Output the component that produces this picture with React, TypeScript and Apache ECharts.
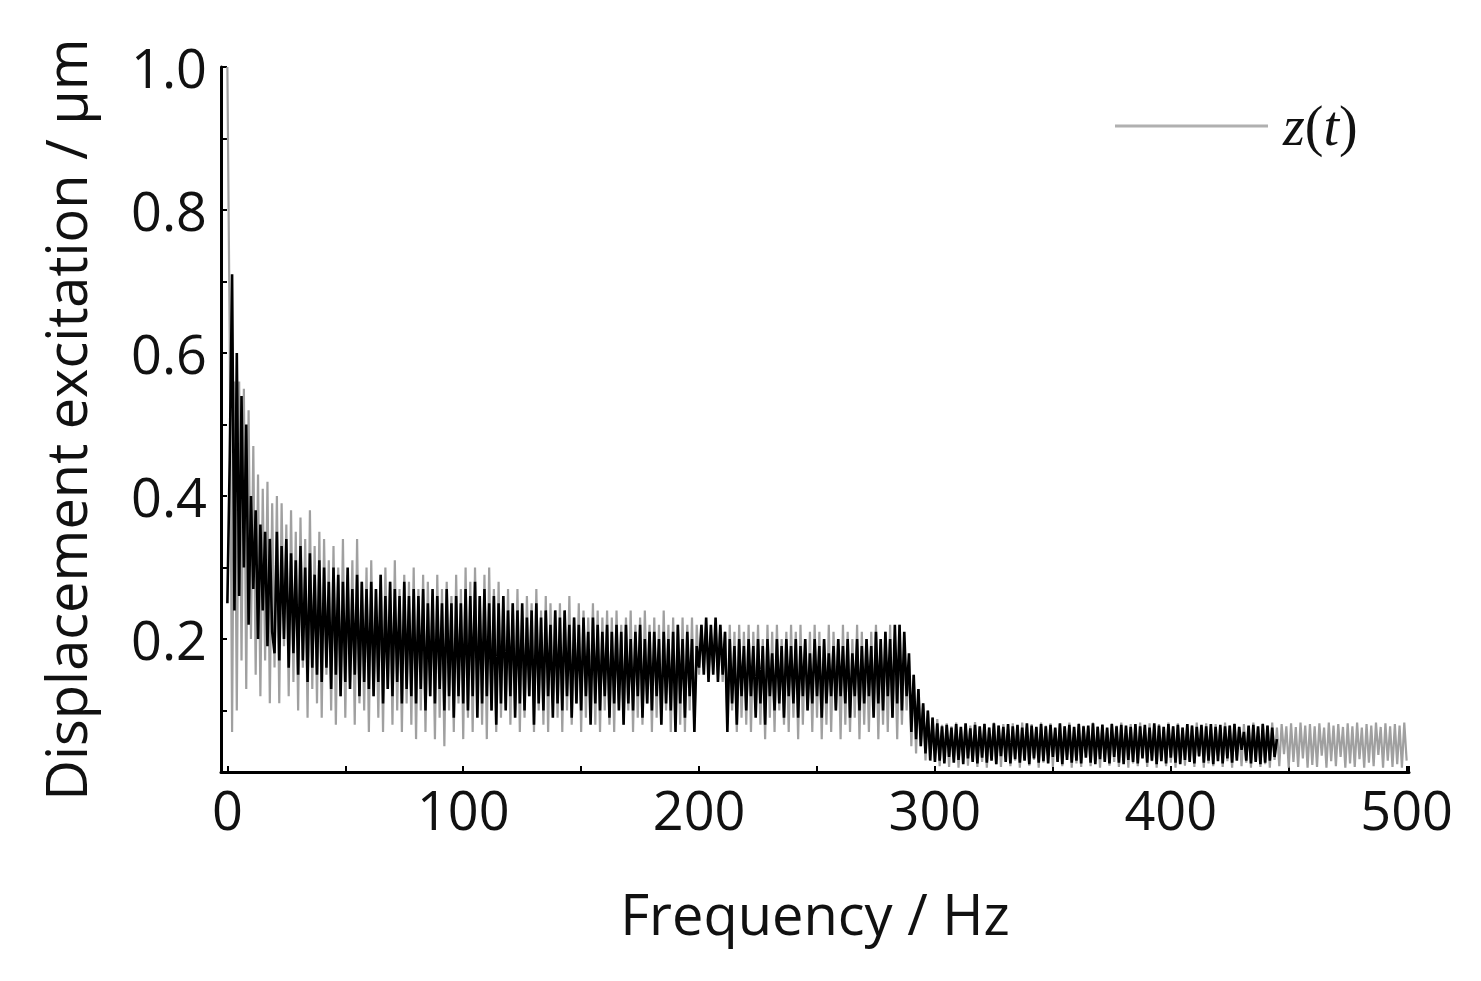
import React, { useEffect, useRef } from "react";
import * as echarts from "echarts";

// Tick labels
const X_LABELS = [0, 100, 200, 300, 400, 500];
const Y_LABELS = [0.2, 0.4, 0.6, 0.8, 1.0];

// Frequency grid: value i is at i Hz (step 1 Hz)
const FREQ_START = 0;
const FREQ_STEP = 1;

// z(t) spectrum (grey), 0..500 Hz
const Z_T: number[] = [
  1.00, 0.62, 0.07, 0.56, 0.10, 0.56, 0.17, 0.55, 0.13, 0.52, 0.20, 0.47, 0.15, 0.43, 0.12, 0.41, 0.17, 0.42, 0.11, 0.39,
  0.16, 0.40, 0.11, 0.39, 0.19, 0.36, 0.12, 0.38, 0.14, 0.35, 0.10, 0.37, 0.16, 0.34, 0.09, 0.38, 0.13, 0.33, 0.11, 0.35,
  0.09, 0.34, 0.15, 0.31, 0.10, 0.33, 0.08, 0.30, 0.12, 0.34, 0.09, 0.29, 0.14, 0.31, 0.08, 0.34, 0.11, 0.28, 0.10, 0.30,
  0.07, 0.31, 0.12, 0.27, 0.09, 0.29, 0.07, 0.30, 0.13, 0.28, 0.08, 0.31, 0.10, 0.27, 0.07, 0.29, 0.11, 0.28, 0.08, 0.30,
  0.06, 0.27, 0.10, 0.29, 0.07, 0.28, 0.12, 0.26, 0.06, 0.29, 0.09, 0.27, 0.05, 0.28, 0.10, 0.26, 0.07, 0.29, 0.11, 0.27,
  0.06, 0.30, 0.09, 0.28, 0.07, 0.30, 0.12, 0.26, 0.08, 0.29, 0.06, 0.30, 0.10, 0.27, 0.07, 0.28, 0.09, 0.26, 0.11, 0.27,
  0.08, 0.25, 0.10, 0.27, 0.07, 0.24, 0.09, 0.26, 0.12, 0.25, 0.07, 0.27, 0.10, 0.24, 0.08, 0.26, 0.07, 0.25, 0.11, 0.24,
  0.09, 0.25, 0.07, 0.24, 0.10, 0.26, 0.08, 0.23, 0.11, 0.25, 0.07, 0.24, 0.09, 0.23, 0.12, 0.25, 0.08, 0.24, 0.07, 0.23,
  0.10, 0.24, 0.08, 0.23, 0.07, 0.24, 0.11, 0.22, 0.08, 0.23, 0.10, 0.24, 0.07, 0.22, 0.09, 0.23, 0.08, 0.24, 0.11, 0.22,
  0.07, 0.23, 0.09, 0.22, 0.08, 0.24, 0.10, 0.22, 0.07, 0.23, 0.09, 0.22, 0.08, 0.23, 0.07, 0.22, 0.10, 0.23, 0.07, 0.22,
  0.15, 0.22, 0.16, 0.22, 0.15, 0.21, 0.16, 0.22, 0.15, 0.22, 0.14, 0.21, 0.08, 0.22, 0.10, 0.21, 0.07, 0.22, 0.09, 0.21,
  0.08, 0.22, 0.07, 0.21, 0.10, 0.22, 0.08, 0.20, 0.06, 0.22, 0.09, 0.21, 0.07, 0.22, 0.10, 0.20, 0.08, 0.21, 0.07, 0.22,
  0.09, 0.21, 0.06, 0.22, 0.08, 0.20, 0.10, 0.21, 0.07, 0.22, 0.09, 0.21, 0.06, 0.20, 0.08, 0.22, 0.07, 0.21, 0.10, 0.20,
  0.06, 0.22, 0.08, 0.21, 0.07, 0.20, 0.09, 0.22, 0.06, 0.21, 0.08, 0.20, 0.07, 0.21, 0.10, 0.22, 0.06, 0.20, 0.08, 0.21,
  0.07, 0.22, 0.09, 0.20, 0.06, 0.22, 0.08, 0.19, 0.10, 0.17, 0.05, 0.15, 0.04, 0.13, 0.05, 0.11, 0.03, 0.10, 0.04, 0.09,
  0.030, 0.088, 0.022, 0.080, 0.040, 0.082, 0.021, 0.078, 0.032, 0.083, 0.020, 0.075, 0.038, 0.081, 0.023, 0.079, 0.030, 0.084, 0.021, 0.077,
  0.028, 0.082, 0.020, 0.076, 0.042, 0.083, 0.025, 0.079, 0.021, 0.081, 0.036, 0.074, 0.022, 0.082, 0.030, 0.078, 0.020, 0.083, 0.040, 0.077,
  0.023, 0.081, 0.031, 0.076, 0.020, 0.083, 0.027, 0.079, 0.038, 0.082, 0.021, 0.075, 0.029, 0.081, 0.022, 0.078, 0.035, 0.083, 0.020, 0.077,
  0.026, 0.082, 0.021, 0.079, 0.041, 0.076, 0.022, 0.083, 0.030, 0.078, 0.020, 0.081, 0.034, 0.075, 0.023, 0.082, 0.028, 0.079, 0.021, 0.083,
  0.037, 0.077, 0.020, 0.081, 0.026, 0.078, 0.022, 0.083, 0.039, 0.076, 0.021, 0.082, 0.029, 0.079, 0.020, 0.081, 0.033, 0.077, 0.022, 0.083,
  0.027, 0.078, 0.020, 0.082, 0.040, 0.076, 0.023, 0.081, 0.030, 0.079, 0.021, 0.083, 0.035, 0.077, 0.020, 0.082, 0.026, 0.078, 0.022, 0.081,
  0.038, 0.076, 0.021, 0.083, 0.029, 0.079, 0.020, 0.082, 0.034, 0.077, 0.022, 0.081, 0.027, 0.078, 0.020, 0.083, 0.036, 0.076, 0.021, 0.082,
  0.025, 0.079, 0.020, 0.083, 0.031, 0.076, 0.022, 0.081, 0.039, 0.078, 0.020, 0.082, 0.028, 0.077, 0.021, 0.083, 0.033, 0.079, 0.020, 0.081,
  0.024, 0.078, 0.021, 0.082, 0.037, 0.076, 0.020, 0.083, 0.029, 0.079, 0.022, 0.081, 0.035, 0.077, 0.020, 0.082, 0.026, 0.078, 0.021, 0.083,
  0.032, 0.076, 0.020, 0.081, 0.027, 0.079, 0.022, 0.083, 0.038, 0.077, 0.020, 0.082, 0.030, 0.078, 0.021, 0.081, 0.025, 0.079, 0.020, 0.083,
  0.030,
];

// Second (black) spectrum, 0..445 Hz
const BLACK_SPEC: number[] = [
  0.25, 0.45, 0.71, 0.24, 0.60, 0.26, 0.54, 0.30, 0.50, 0.22, 0.40, 0.27, 0.38, 0.20, 0.36, 0.24, 0.35, 0.19, 0.34, 0.21,
  0.18, 0.35, 0.17, 0.33, 0.20, 0.34, 0.16, 0.32, 0.18, 0.31, 0.15, 0.33, 0.17, 0.30, 0.14, 0.32, 0.16, 0.29, 0.15, 0.31,
  0.14, 0.30, 0.16, 0.28, 0.13, 0.30, 0.15, 0.29, 0.12, 0.28, 0.14, 0.30, 0.13, 0.27, 0.15, 0.29, 0.12, 0.28, 0.14, 0.27,
  0.13, 0.28, 0.12, 0.27, 0.14, 0.29, 0.11, 0.26, 0.13, 0.28, 0.12, 0.27, 0.14, 0.26, 0.11, 0.28, 0.13, 0.26, 0.12, 0.27,
  0.11, 0.26, 0.13, 0.27, 0.10, 0.25, 0.12, 0.27, 0.11, 0.26, 0.13, 0.25, 0.10, 0.27, 0.12, 0.25, 0.09, 0.26, 0.12, 0.25,
  0.11, 0.27, 0.10, 0.26, 0.12, 0.28, 0.09, 0.26, 0.11, 0.27, 0.12, 0.25, 0.10, 0.26, 0.08, 0.25, 0.11, 0.26, 0.10, 0.24,
  0.12, 0.25, 0.09, 0.24, 0.11, 0.25, 0.10, 0.23, 0.12, 0.24, 0.08, 0.25, 0.11, 0.23, 0.10, 0.24, 0.12, 0.22, 0.09, 0.24,
  0.11, 0.23, 0.10, 0.24, 0.12, 0.22, 0.09, 0.23, 0.11, 0.22, 0.10, 0.23, 0.12, 0.21, 0.08, 0.23, 0.11, 0.22, 0.10, 0.21,
  0.12, 0.22, 0.09, 0.21, 0.11, 0.22, 0.10, 0.21, 0.08, 0.22, 0.11, 0.20, 0.10, 0.21, 0.12, 0.22, 0.09, 0.20, 0.11, 0.21,
  0.10, 0.21, 0.12, 0.20, 0.08, 0.21, 0.11, 0.20, 0.10, 0.21, 0.07, 0.22, 0.11, 0.20, 0.09, 0.21, 0.12, 0.20, 0.07, 0.19,
  0.16, 0.22, 0.15, 0.23, 0.14, 0.22, 0.15, 0.23, 0.14, 0.22, 0.15, 0.21, 0.07, 0.20, 0.11, 0.19, 0.08, 0.20, 0.12, 0.19,
  0.10, 0.20, 0.12, 0.19, 0.09, 0.20, 0.11, 0.19, 0.08, 0.20, 0.12, 0.18, 0.10, 0.20, 0.11, 0.19, 0.09, 0.20, 0.12, 0.19,
  0.11, 0.20, 0.09, 0.19, 0.12, 0.20, 0.10, 0.18, 0.11, 0.20, 0.12, 0.19, 0.09, 0.20, 0.11, 0.18, 0.12, 0.19, 0.10, 0.20,
  0.12, 0.19, 0.11, 0.20, 0.09, 0.18, 0.12, 0.20, 0.10, 0.19, 0.11, 0.20, 0.12, 0.19, 0.09, 0.21, 0.11, 0.20, 0.10, 0.21,
  0.12, 0.20, 0.09, 0.22, 0.11, 0.22, 0.10, 0.21, 0.12, 0.18, 0.07, 0.15, 0.06, 0.13, 0.05, 0.11, 0.04, 0.10, 0.03, 0.09,
  0.028, 0.082, 0.030, 0.078, 0.026, 0.080, 0.035, 0.076, 0.027, 0.081, 0.031, 0.077, 0.025, 0.082, 0.033, 0.075, 0.028, 0.080, 0.026, 0.078,
  0.034, 0.081, 0.027, 0.076, 0.030, 0.082, 0.025, 0.079, 0.036, 0.077, 0.028, 0.081, 0.026, 0.078, 0.032, 0.080, 0.027, 0.076, 0.030, 0.082,
  0.025, 0.079, 0.033, 0.077, 0.027, 0.081, 0.029, 0.078, 0.026, 0.080, 0.035, 0.076, 0.028, 0.082, 0.025, 0.078, 0.031, 0.080, 0.027, 0.077,
  0.030, 0.081, 0.026, 0.078, 0.034, 0.079, 0.027, 0.082, 0.025, 0.077, 0.032, 0.080, 0.028, 0.076, 0.026, 0.081, 0.035, 0.078, 0.027, 0.080,
  0.025, 0.079, 0.031, 0.077, 0.028, 0.081, 0.026, 0.078, 0.033, 0.080, 0.027, 0.076, 0.030, 0.082, 0.025, 0.079, 0.029, 0.077, 0.026, 0.081,
  0.034, 0.078, 0.027, 0.080, 0.025, 0.076, 0.031, 0.081, 0.028, 0.079, 0.026, 0.077, 0.036, 0.080, 0.027, 0.078, 0.030, 0.081, 0.025, 0.077,
  0.029, 0.080, 0.026, 0.078, 0.033, 0.079, 0.027, 0.081, 0.030, 0.077, 0.045, 0.070, 0.030, 0.079, 0.026, 0.080, 0.028, 0.078, 0.025, 0.081,
  0.027, 0.079, 0.030, 0.076, 0.035, 0.060,
];

const FONT = "'Open Sans', 'Noto Sans', sans-serif";
const TEXT_COLOR = "#111";

function toPairs(values: number[]): number[][] {
  return values.map((v, i) => [FREQ_START + i * FREQ_STEP, v]);
}

function isTick(list: number[], v: number): boolean {
  return list.some((t) => Math.abs(t - v) < 1e-9);
}

export default function App() {
  const ref = useRef<HTMLDivElement>(null);

  useEffect(() => {
    document.body.style.margin = "0";
    document.body.style.overflow = "hidden";
    const chart = echarts.init(ref.current as HTMLDivElement, null, { renderer: "svg" });
    chart.setOption({
      animation: false,
      backgroundColor: "#ffffff",
      grid: { left: 221, right: 72, top: 67, bottom: 209, containLabel: false },
      legend: {
        data: [{ name: "z(t)", icon: "rect", itemStyle: { color: "#b0b0b0" } }],
        left: 1115,
        top: 98,
        padding: 0,
        itemWidth: 153,
        itemHeight: 3,
        formatter: () => "{i|z}{n|(}{i|t}{n|)}",
        textStyle: {
          color: TEXT_COLOR,
          fontSize: 56,
          fontFamily: "'Liberation Serif', serif",
          padding: [0, 0, 0, 10],
          rich: {
            i: { fontStyle: "italic", fontSize: 56, fontFamily: "'Liberation Serif', serif", color: TEXT_COLOR },
            n: { fontSize: 56, fontFamily: "'Liberation Serif', serif", color: TEXT_COLOR },
          },
        },
      },
      xAxis: {
        type: "value",
        min: -2.7,
        max: 501,
        splitNumber: 5,
        name: "Frequency / Hz",
        nameLocation: "middle",
        nameGap: 113,
        nameTextStyle: { fontSize: 56, fontFamily: FONT, color: TEXT_COLOR },
        axisLine: { show: true, onZero: false, lineStyle: { color: "#000", width: 3 } },
        axisTick: { show: true, inside: true, length: 6, lineStyle: { color: "#000", width: 2 } },
        minorTick: { show: true, splitNumber: 2, length: 6, lineStyle: { color: "#000", width: 2 } },
        splitLine: { show: false },
        axisLabel: {
          fontSize: 54,
          fontFamily: FONT,
          color: TEXT_COLOR,
          margin: 10,
          showMinLabel: false,
          showMaxLabel: false,
          formatter: (v: number) => (isTick(X_LABELS, v) ? String(Math.round(v)) : ""),
        },
      },
      yAxis: {
        type: "value",
        min: 0.014,
        max: 1.0,
        splitNumber: 5,
        name: "Displacement excitation / μm",
        nameLocation: "middle",
        nameGap: 128,
        nameTextStyle: { fontSize: 56, fontFamily: FONT, color: TEXT_COLOR },
        axisLine: { show: true, onZero: false, lineStyle: { color: "#000", width: 3 } },
        axisTick: { show: true, inside: true, length: 6, lineStyle: { color: "#000", width: 2 } },
        minorTick: { show: true, splitNumber: 2, length: 6, lineStyle: { color: "#000", width: 2 } },
        splitLine: { show: false },
        axisLabel: {
          fontSize: 54,
          fontFamily: FONT,
          color: TEXT_COLOR,
          margin: 14,
          showMinLabel: false,
          showMaxLabel: true,
          formatter: (v: number) => (isTick(Y_LABELS, v) ? v.toFixed(1) : ""),
        },
      },
      series: [
        {
          name: "z(t)",
          type: "line",
          data: toPairs(Z_T),
          symbol: "none",
          showSymbol: false,
          lineStyle: { color: "#a0a0a0", width: 2.2 },
          itemStyle: { color: "#a0a0a0" },
          z: 2,
          silent: true,
        },
        {
          name: "spectrum",
          type: "line",
          data: toPairs(BLACK_SPEC),
          symbol: "none",
          showSymbol: false,
          lineStyle: { color: "#000000", width: 2.6 },
          itemStyle: { color: "#000000" },
          z: 3,
          silent: true,
        },
      ],
    });
    return () => chart.dispose();
  }, []);

  return <div ref={ref} style={{ width: 1481, height: 981 }} />;
}
